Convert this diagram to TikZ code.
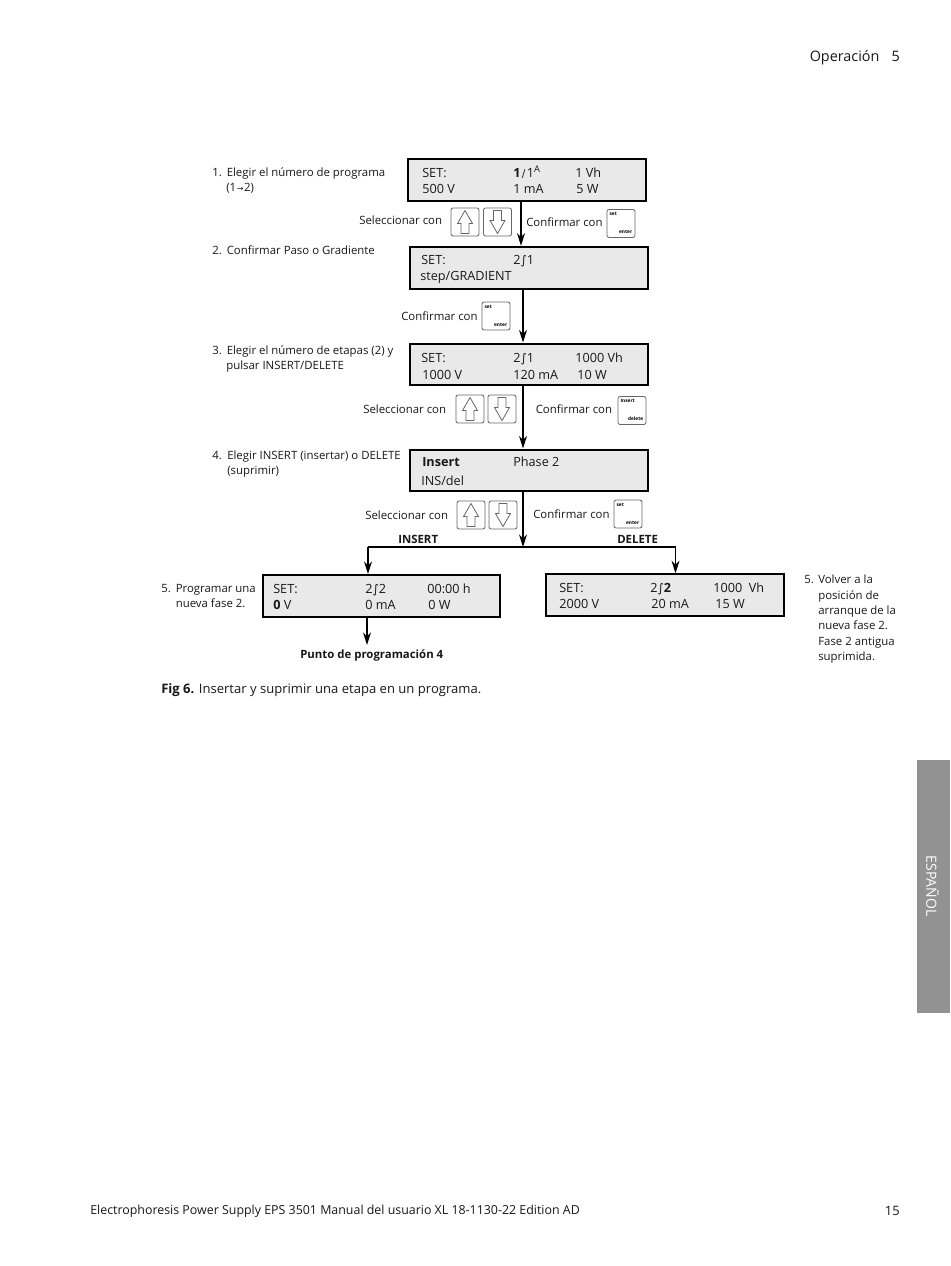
\documentclass[tikz,border=0pt]{standalone}
\usepackage{fontspec}
\setmainfont{Open Sans}
\newfontfamily\symf{DejaVu Sans}
\newcounter{tc}
\tikzset{
  x=0.75pt,y=-0.75pt,
  lcd/.style={draw=black,fill=lcdgray,line width=1.5pt,minimum width=178pt,minimum height=31.3pt,inner sep=0pt,anchor=north west},
  keybox/.style={draw=keygray,fill=white,line width=0.6pt,rounded corners=1.6pt,minimum width=21pt,minimum height=21pt,inner sep=0pt},
  flow/.style={draw=black,line width=1.1pt,-{Stealth[length=9.5pt,width=6pt]}},
  plain/.style={draw=black,line width=1.1pt},
  hollow/.style={draw=keygray,line width=0.6pt,fill=white,line join=miter},
  lab/.style={inner sep=0pt,anchor=base west,font=\fontsize{8.55pt}{11pt}\selectfont,text=black!90},
  lcdt/.style={inner sep=0pt,anchor=base west,font=\fontsize{9.5pt}{12pt}\selectfont,text=black!90},
  tiny/.style={inner sep=0pt,font=\fontsize{3.6pt}{4pt}\selectfont\bfseries,text=black},
}
\definecolor{lcdgray}{HTML}{E9E9E9}
\definecolor{keygray}{HTML}{666666}
\definecolor{tabgray}{HTML}{929292}
\usetikzlibrary{arrows.meta}
\newcommand\lb[3]{\stepcounter{tc}\node[lab] (l\thetc) at (#1,#2) {#3};}
\newcommand\lc[3]{\stepcounter{tc}\node[lcdt] (c\thetc) at (#1,#2) {#3};}
\newcommand\gr{{\symf\fontsize{9pt}{11pt}\selectfont ∫}}
\newcommand\keyarrows[3]{% x-up x-down y-centre
  \stepcounter{tc}
  \node[keybox] (u\thetc) at (#1,#3) {};
  \node[keybox] (d\thetc) at (#2,#3) {};
  \draw[hollow] (u\thetc.center) ++(0,-11.5) -- ++(7.5,13) -- ++(-3.5,0) -- ++(0,10) -- ++(-8,0) -- ++(0,-10) -- ++(-3.5,0) -- cycle;
  \draw[hollow] (d\thetc.center) ++(0,11.5) -- ++(7.5,-13) -- ++(-3.5,0) -- ++(0,-10) -- ++(-8,0) -- ++(0,10) -- ++(-3.5,0) -- cycle;
}
\newcommand\keytwo[4]{% x y top bottom
  \stepcounter{tc}
  \node[keybox] (k\thetc) at (#1,#2) {};
  \node[tiny,anchor=north west] (kt\thetc) at ([xshift=2pt,yshift=-2.4pt]k\thetc.north west) {#3};
  \node[tiny,anchor=south east] (kb\thetc) at ([xshift=-2.2pt,yshift=2.8pt]k\thetc.south east) {#4};
}
\begin{document}
\begin{tikzpicture}
\useasboundingbox (0,0) rectangle (950,1266);
\fill[white] (0,0) rectangle (950,1266);

% header, footer, tab
\node[inner sep=0pt,anchor=base east,font=\fontsize{10.8pt}{13pt}\selectfont,text=black!90] (head) at (900,62) {Operación\hspace{9pt}5};
\node[inner sep=0pt,anchor=base west,font=\fontsize{9.3pt}{12pt}\selectfont,text=black!90] (foot) at (90,1214) {Electrophoresis Power Supply EPS 3501 Manual del usuario XL 18-1130-22 Edition AD};
\node[inner sep=0pt,anchor=base east,font=\fontsize{9.7pt}{12pt}\selectfont,text=black!90] (pageno) at (900,1215) {15};
\node[fill=tabgray,minimum width=24.75pt,minimum height=189.75pt,inner sep=0pt,anchor=north west] (tab) at (917,760) {};
\node[rotate=-90,inner sep=0pt,text=white,font=\fontsize{10.5pt}{12pt}\selectfont] (tabt) at (932.5,886) {ESPAÑOL};

% LCD boxes
\node[lcd] (b1) at (407.3,158.4) {};
\node[lcd] (b2) at (409.3,245.8) {};
\node[lcd] (b3) at (409.3,342.5) {};
\node[lcd] (b4) at (409.3,448.5) {};
\node[lcd] (b5) at (261.5,574) {};
\node[lcd] (b6) at (545.3,573.3) {};

% connector columns
\coordinate (a1) at (521,225);
\coordinate (a2) at (523,315);
\coordinate (jn) at (523,547);
\coordinate (jl) at (368,547);
\coordinate (jr) at (675.5,547);
\coordinate (pt) at (367,645);

\draw[flow] (a1|-b1.south) -- (a1|-b2.north);
\draw[flow] (a2|-b2.south) -- (a2|-b3.north);
\draw[flow] (a2|-b3.south) -- (a2|-b4.north);
\draw[flow] (a2|-b4.south) -- (jn);
\draw[plain] (jl) -- (jr);
\draw[flow] (jl) -- (jl|-b5.north);
\draw[flow] (jr) -- (jr|-b6.north);
\draw[flow] (pt|-b5.south) -- (pt);

% left labels
\lb{212}{177}{1.}\lb{226.5}{177}{Elegir el número de programa}
\lb{226}{192}{(1\kern0.5pt{\symf\fontsize{6pt}{7pt}\selectfont →}\kern0.5pt2)}
\lb{212}{254}{2.}\lb{226.5}{254}{Confirmar Paso o Gradiente}
\lb{212}{354}{3.}\lb{226.5}{354}{Elegir el número de etapas (2) y}
\lb{226}{369}{pulsar INSERT/DELETE}
\lb{212}{459}{4.}\lb{227}{459}{Elegir INSERT (insertar) o DELETE}
\lb{227}{474}{(suprimir)}
\lb{161}{592}{5.}\lb{175.5}{592}{Programar una}
\lb{175.5}{607}{nueva fase 2.}
\lb{804}{583}{5.}\lb{818}{583}{Volver a la}
\lb{818}{599}{posición de}
\lb{818}{614}{arranque de la}
\lb{818}{629}{nueva fase 2.}
\lb{818}{645}{Fase 2 antigua}
\lb{818}{660}{suprimida.}

% keys row 1
\lb{359}{225}{Seleccionar con}
\keyarrows{465}{497.5}{222}
\lb{526}{227}{Confirmar con}
\keytwo{621}{223.5}{set}{enter}
% row 2
\lb{401}{320}{Confirmar con}
\keytwo{496}{316}{set}{enter}
% row 3
\lb{363}{413}{Seleccionar con}
\keyarrows{470}{502}{409}
\lb{535.5}{413}{Confirmar con}
\keytwo{632}{410.5}{Insert}{delete}
% row 4
\lb{365}{519}{Seleccionar con}
\keyarrows{471}{503}{515}
\lb{533}{518}{Confirmar con}
\keytwo{628}{514}{set}{enter}

% branch labels
\lb{398}{543}{\bfseries INSERT}
\lb{617}{543}{\bfseries DELETE}
\lb{300}{658}{\bfseries Punto de programación 4}
\stepcounter{tc}\node[inner sep=0pt,anchor=base west,font=\fontsize{9.8pt}{12pt}\selectfont,text=black!90] (fig) at (161,693) {\textbf{Fig 6.} Insertar y suprimir una etapa en un programa.};

% box 1
\lc{422}{178}{SET:}\lc{513}{178}{\textbf{1}\kern1pt{\symf\fontsize{8pt}{9pt}\selectfont ∕}\kern1pt 1\raisebox{4pt}{\fontsize{7pt}{8pt}\selectfont A}}\lc{575}{178}{1 Vh}
\lc{422}{194}{500 V}\lc{513}{194}{1 mA}\lc{576}{194}{5 W}
% box 2
\lc{421}{264}{SET:}\lc{513}{264}{2\gr 1}
\lc{420}{280}{step/GRADIENT}
% box 3
\lc{421}{362}{SET:}\lc{513}{362}{2\gr 1}\lc{575}{362}{1000 Vh}
\lc{422}{379}{1000 V}\lc{513}{379}{120 mA}\lc{577}{379}{10 W}
% box 4
\lc{422}{466}{\textbf{Insert}}\lc{513}{466}{Phase 2}
\lc{421}{485}{INS/del}
% box 5
\lc{273}{593}{SET:}\lc{365}{593}{2\gr 2}\lc{427}{593}{00:00 h}
\lc{273}{609}{\textbf{0} V}\lc{365}{609}{0 mA}\lc{428}{609}{0 W}
% box 6
\lc{559}{592}{SET:}\lc{650}{592}{2\gr\textbf{2}}\lc{713}{592}{1000\ \ Vh}
\lc{559}{608}{2000 V}\lc{651}{608}{20 mA}\lc{715}{608}{15 W}
\end{tikzpicture}
\end{document}
